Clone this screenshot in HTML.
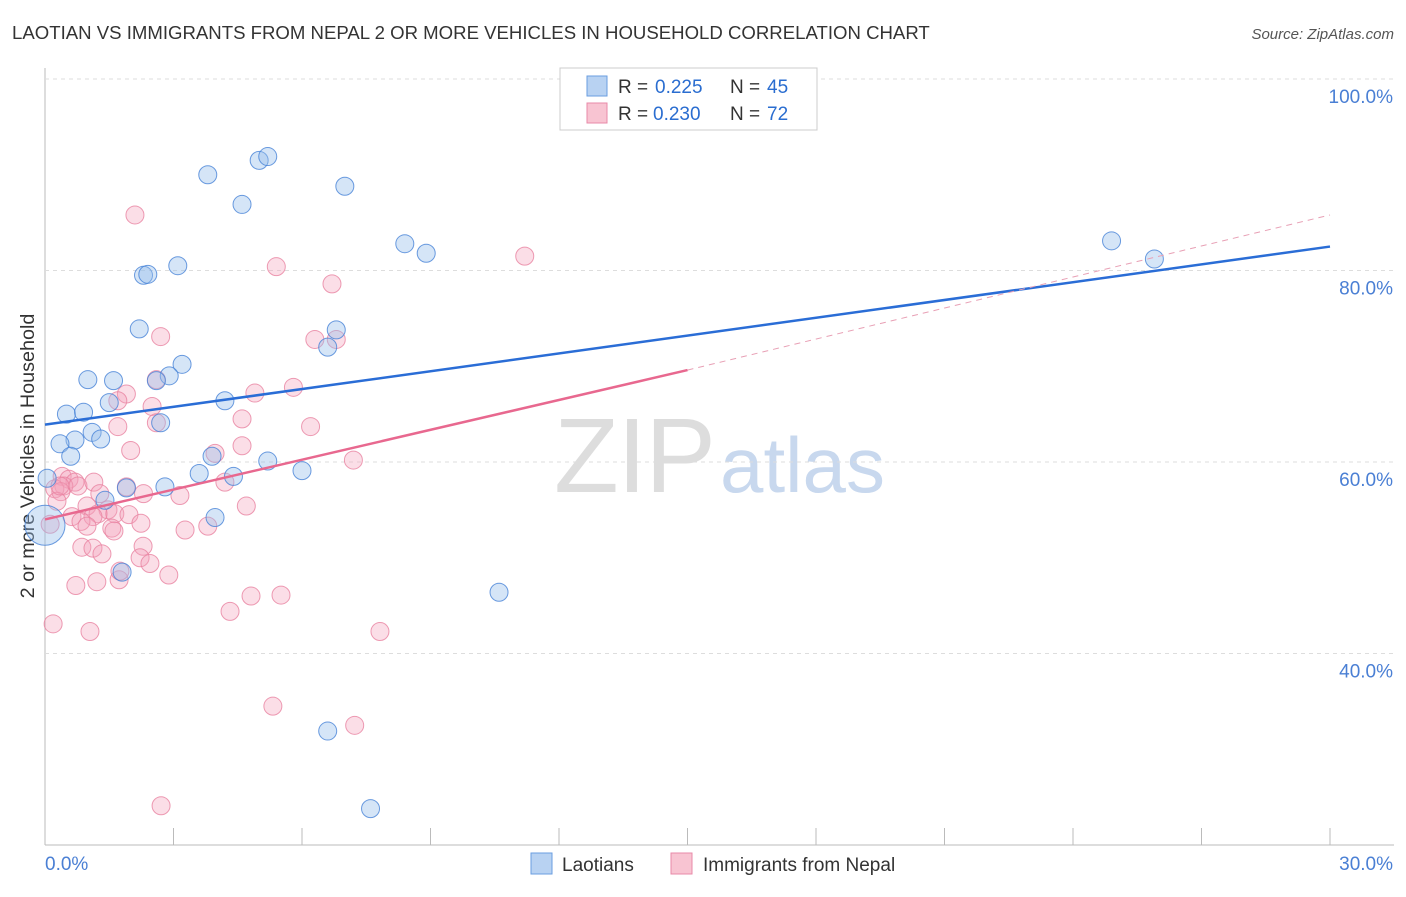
<!DOCTYPE html>
<html><head><meta charset="utf-8"><style>
body{margin:0;background:#fff;font-family:"Liberation Sans",sans-serif}
svg text{font-family:"Liberation Sans",sans-serif}
</style></head><body>
<svg id="c" width="1406" height="892">
<text x="12" y="39" font-size="18.6" fill="#333">LAOTIAN VS IMMIGRANTS FROM NEPAL 2 OR MORE VEHICLES IN HOUSEHOLD CORRELATION CHART</text>
<text x="1394" y="39" font-size="15" fill="#555" text-anchor="end" font-style="italic">Source: ZipAtlas.com</text>
<text x="34" y="456" font-size="19.8" fill="#333" text-anchor="middle" transform="rotate(-90 34 456)">2 or more Vehicles in Household</text>
<text x="716" y="492" font-size="106" fill="#ddd" text-anchor="end" font-family="Liberation Serif" textLength="162">ZIP</text>
<text x="720" y="492" font-size="78" fill="#c8d8ee" textLength="165">atlas</text>
<g id="grid"></g><g id="pts"></g><g id="lines"></g>
<g>
<rect x="560" y="68" width="257" height="62" fill="#fff" stroke="#ccc"/>
<rect x="587" y="76" width="20" height="20" fill="#b8d2f2" stroke="#6a9ee0"/>
<rect x="587" y="103" width="20" height="20" fill="#f8c4d2" stroke="#e88aa8"/>
<text x="618" y="93" font-size="19" fill="#333">R =</text><text x="655" y="93" font-size="19" fill="#2a6dd0">0.225</text>
<text x="730" y="93" font-size="19" fill="#333">N =</text><text x="767" y="93" font-size="19" fill="#2a6dd0">45</text>
<text x="618" y="120" font-size="19" fill="#333">R =</text><text x="653" y="120" font-size="19" fill="#2a6dd0">0.230</text>
<text x="730" y="120" font-size="19" fill="#333">N =</text><text x="767" y="120" font-size="19" fill="#2a6dd0">72</text>
</g>
<g>
<rect x="531" y="853" width="21" height="21" fill="#b8d2f2" stroke="#6a9ee0"/>
<text x="562" y="871" font-size="19" fill="#333">Laotians</text>
<rect x="671" y="853" width="21" height="21" fill="#f8c4d2" stroke="#e88aa8"/>
<text x="703" y="871" font-size="19" fill="#333">Immigrants from Nepal</text>
</g>
</svg>
<script>
const yTicks=[40,60,80,100];
const xTickLabels=["0.0%","30.0%"];
const blueX=[3.8,4.6,5.0,5.2,7.0,8.4,8.9,2.3,2.4,3.1,2.2,6.8,6.6,3.2,2.9,1.0,1.6,2.6,4.2,1.5,0.5,0.9,2.7,1.1,0.7,1.3,0.35,0.6,3.9,5.2,3.6,4.4,6.0,2.8,1.9,1.4,3.97,1.8,10.6,6.6,7.6,24.9,25.9,0.0,0.05];
const blueY=[90.0,86.9,91.5,91.9,88.8,82.8,81.8,79.5,79.6,80.5,73.9,73.8,72.0,70.2,69.0,68.6,68.5,68.5,66.4,66.2,65.0,65.2,64.1,63.1,62.3,62.4,61.9,60.6,60.6,60.1,58.8,58.5,59.1,57.4,57.3,56.0,54.2,48.5,46.4,31.9,23.8,83.1,81.2,53.4,58.3];
const pinkX=[2.1,5.4,6.7,11.2,2.7,6.3,6.8,2.6,5.8,4.9,1.9,1.7,2.5,4.6,2.6,1.7,6.2,4.6,2.0,3.97,7.2,4.2,0.4,0.56,0.7,0.44,0.77,0.23,0.37,1.14,1.9,2.3,3.15,4.7,0.28,0.98,1.47,1.24,1.63,1.96,1.12,0.63,0.84,2.24,1.56,0.98,3.27,3.8,1.61,0.86,1.12,1.33,2.29,2.22,2.45,1.73,1.21,0.72,2.89,4.81,5.51,4.32,0.19,1.05,7.82,5.32,7.23,2.71,0.12,0.35,1.75,1.28];
const pinkY=[85.8,80.4,78.6,81.5,73.1,72.8,72.8,68.6,67.8,67.2,67.1,66.4,65.8,64.5,64.1,63.7,63.7,61.7,61.2,60.9,60.2,57.9,58.5,58.2,57.9,57.5,57.5,57.2,56.9,57.9,57.4,56.7,56.5,55.4,55.9,55.4,55.0,54.6,54.6,54.5,54.3,54.3,53.8,53.6,53.1,53.3,52.9,53.3,52.8,51.1,51.0,50.4,51.2,50.0,49.4,47.7,47.5,47.1,48.2,46.0,46.1,44.4,43.1,42.3,42.3,34.5,32.5,24.1,53.5,57.5,48.6,56.7];
const blueTrend=[[0,63.9],[30,82.5]];
const pinkTrend=[[0,54.0],[15,69.6],[30,85.8]];
const X=v=>45+v/30*1285, Y=v=>79+(100-v)/20*191.5;
const NS="http://www.w3.org/2000/svg";
function mk(t,a,p){const e=document.createElementNS(NS,t);for(const k in a)e.setAttribute(k,a[k]);p.appendChild(e);return e;}
const g=document.getElementById('grid');
const ax1=mk('line',{x1:45,y1:68,x2:45,y2:845,stroke:'#bbb'},g);


const ax2=mk('line',{x1:45,y1:845,x2:1394,y2:845,stroke:'#bbb'},g);


yTicks.forEach(t=>{
 const l=mk('line',{x1:45,x2:1394,y1:Y(t),y2:Y(t),stroke:'#ddd','stroke-dasharray':'4 4'},g);
 
 
 const tx=mk('text',{x:1393,y:Y(t)+24,'font-size':19,fill:'#4a7fd4','text-anchor':'end'},g);
 tx.textContent=t.toFixed(1)+'%';
 
 
});
for(let i=0;i<=10;i++){const l=mk('line',{x1:X(i*3),x2:X(i*3),y1:828,y2:845,stroke:'#bbb'},g);
 
 }
xTickLabels.forEach((s,i)=>{const t=mk('text',{x:i?1393:45,y:870,'font-size':19,fill:'#4a7fd4','text-anchor':i?'end':'start'},g);t.textContent=s;
 
 });
const p=document.getElementById('pts');
pinkX.forEach((x,i)=>{const c=mk('circle',{cx:X(x),cy:Y(pinkY[i]),r:9,fill:'rgba(244,160,185,0.35)',stroke:'rgba(232,130,160,0.8)'},p);
 
 });
blueX.forEach((x,i)=>{const c=mk('circle',{cx:X(x),cy:Y(blueY[i]),r:i==43?20:9,fill:'rgba(150,190,235,0.4)',stroke:'rgba(70,130,215,0.8)'},p);
 
 });
const L=document.getElementById('lines');
const b=mk('line',{x1:X(blueTrend[0][0]),y1:Y(blueTrend[0][1]),x2:X(blueTrend[1][0]),y2:Y(blueTrend[1][1]),stroke:'#2a6dd6','stroke-width':2.5},L);


const ps=mk('line',{x1:X(pinkTrend[0][0]),y1:Y(pinkTrend[0][1]),x2:X(pinkTrend[1][0]),y2:Y(pinkTrend[1][1]),stroke:'#e8688f','stroke-width':2.5},L);


const pd=mk('line',{x1:X(pinkTrend[1][0]),y1:Y(pinkTrend[1][1]),x2:X(pinkTrend[2][0]),y2:Y(pinkTrend[2][1]),stroke:'#e8a0b5','stroke-width':1,'stroke-dasharray':'6 5'},L);


</script>
</body></html>
